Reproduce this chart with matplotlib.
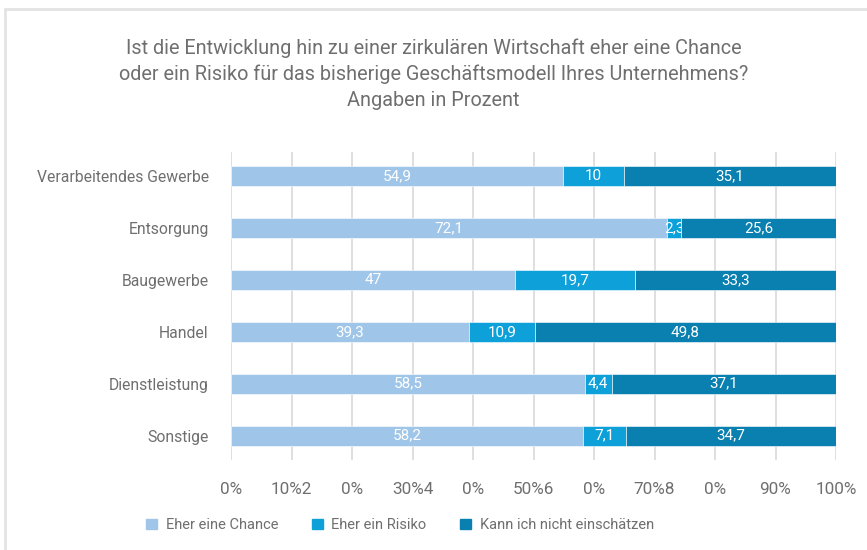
import numpy as np
import matplotlib
import matplotlib.pyplot as plt
from matplotlib import font_manager
from matplotlib.patches import Rectangle, Patch

matplotlib.use("Agg")

categories = ["Verarbeitendes Gewerbe", "Entsorgung", "Baugewerbe",
              "Handel", "Dienstleistung", "Sonstige"]
chance = [54.9, 72.1, 47.0, 39.3, 58.5, 58.2]
risiko = [10.0, 2.3, 19.7, 10.9, 4.4, 7.1]
unklar = [35.1, 25.6, 33.3, 49.8, 37.1, 34.7]
series_names = ["Eher eine Chance", "Eher ein Risiko", "Kann ich nicht einschätzen"]
tick_labels = ["0%", "10%2", "0%", "30%4", "0%", "50%6", "0%", "70%8", "0%", "90%", "100%"]

colors = ["#9fc5e8", "#0ea0d9", "#0a80b0"]
grey = "#6f6f6f"

installed = {f.name for f in font_manager.fontManager.ttflist}
narrow = "Liberation Sans Narrow" if "Liberation Sans Narrow" in installed else "Roboto"
plt.rcParams['font.family'] = [narrow, 'DejaVu Sans']

fig = plt.figure(figsize=(8.67, 5.5), dpi=100)
ax = fig.add_axes([231/867, 1 - 460/550, (836 - 231)/867, (460 - 152)/550])

# frame around the chart
fig.patches.append(Rectangle((5/867, -0.1), 1.0, 1 - 9/550 + 0.1, transform=fig.transFigure,
                             fill=False, edgecolor="#e3e3e3", linewidth=2.0, zorder=0))

y = np.arange(len(categories))
left = np.zeros(len(categories))
for vals, col, name in zip([chance, risiko, unklar], colors, series_names):
    vals = np.array(vals)
    bars = ax.barh(y, vals, left=left, height=0.39, color=col, edgecolor="white",
                   linewidth=0.4, label=name, zorder=3)
    labels = [f"{v:g}".replace(".", ",") for v in vals]
    ax.bar_label(bars, labels=labels, label_type="center", color="white",
                 fontsize=11, family="Roboto")
    left += vals

ax.set_ylim(len(categories) - 0.53, -0.47)
ax.set_xlim(0, 100)
ax.set_yticks(y)
ax.set_yticklabels(categories, fontsize=11.3, color=grey)
ax.set_xticks(np.arange(0, 101, 10))
ax.set_xticklabels(tick_labels, fontsize=12.3, color=grey, family="Roboto")
ax.tick_params(axis="both", length=0)
ax.tick_params(axis="x", pad=16)
ax.tick_params(axis="y", pad=16)
for s in ax.spines.values():
    s.set_visible(False)
ax.grid(axis="x", color="#dcdcdc", linewidth=1.3, zorder=0)
ax.set_axisbelow(True)

fig.text(0.5, 1 - 74/550,
         "Ist die Entwicklung hin zu einer zirkulären Wirtschaft eher eine Chance\n"
         "oder ein Risiko für das bisherige Geschäftsmodell Ihres Unternehmens?\n"
         "Angaben in Prozent",
         ha="center", va="center", fontsize=14.3, color=grey, linespacing=1.45)

handles = [Patch(color=c) for c in colors]
fig.legend(handles, series_names, loc="center", bbox_to_anchor=(400/867, 1 - 525/550),
           ncol=3, frameon=False, fontsize=10.5, labelcolor=grey,
           handlelength=0.75, handleheight=0.75, handletextpad=0.6, columnspacing=2.3)

fig.savefig("out.png", dpi=100)
